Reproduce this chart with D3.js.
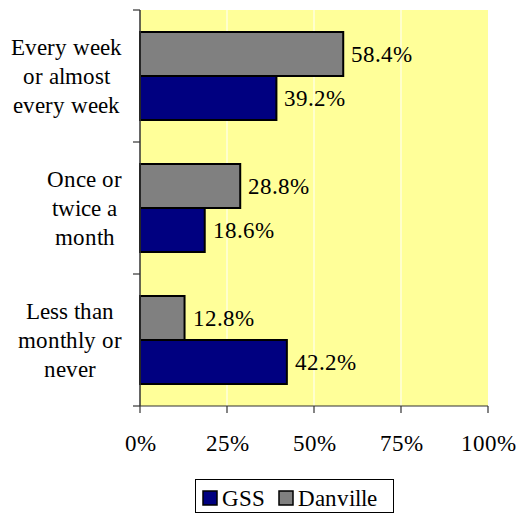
<!DOCTYPE html>
<html>
<head>
<meta charset="utf-8">
<script src="https://cdn.jsdelivr.net/npm/d3@7/dist/d3.min.js"></script>
<style>
  @font-face { font-family: "ChartSerif"; src: local("Liberation Serif"), local("LiberationSerif"), local("LiberationSerif-Regular"), local("Times New Roman"); }
</style>
</head>
<body style="margin:0">
<svg id="c" width="517" height="513"></svg>
<script>
const categories = [
  ["Every week", "or almost", "every week"],
  ["Once or", "twice a", "month"],
  ["Less than", "monthly or", "never"]
];
const seriesNames = ["Danville", "GSS"];
const danville = [58.4, 28.8, 12.8];
const gss = [39.2, 18.6, 42.2];
const xTicks = [0, 25, 50, 75, 100];
const legendOrder = ["GSS", "Danville"];
const colors = { GSS: "#000080", Danville: "#808080" };

(function () {
const svg = d3.select("#c");
const FONT = "ChartSerif, Liberation Serif, Times New Roman, serif";
const pL = 140, pR = 488, pT = 10, pB = 406;
const fs = 23;
const txt = sel => sel.attr("font-family", FONT).attr("font-size", fs);

const x = d3.scaleLinear().domain([0, 100]).range([pL, pR]);
const y = d3.scaleBand().domain(d3.range(categories.length)).range([pT, pB]);
const ySub = d3.scaleBand().domain(seriesNames).range([0, y.bandwidth()]).paddingInner(0).paddingOuter(0.5);

svg.append("rect").attr("x", pL).attr("y", pT).attr("width", pR - pL).attr("height", pB - pT).attr("fill", "#FFFF99");

svg.selectAll("line.grid").data(xTicks.filter(t => t > 0 && t < 100)).join("line")
  .attr("class", "grid")
  .attr("x1", d => x(d)).attr("x2", d => x(d)).attr("y1", pT).attr("y2", pB)
  .attr("stroke", "#fff").attr("stroke-width", 1);

const values = { Danville: danville, GSS: gss };

categories.forEach((c, i) => {
  seriesNames.forEach(s => {
    const v = values[s][i];
    const by = y(i) + ySub(s);
    svg.append("rect")
      .attr("x", x(0)).attr("y", by)
      .attr("width", x(v) - x(0)).attr("height", ySub.bandwidth())
      .attr("fill", colors[s]).attr("stroke", "#000").attr("stroke-width", 2);
    svg.append("text").call(txt)
      .attr("x", x(v) + 8).attr("y", by + ySub.bandwidth() / 2 + 8)
      .text(v.toFixed(1) + "%");
  });
});

svg.append("line").attr("x1", pL).attr("x2", pL).attr("y1", pT).attr("y2", pB)
  .attr("stroke", "#333").attr("stroke-width", 1.5);
const bounds = d3.range(categories.length + 1).map(i => i < categories.length ? y(i) : pB);
svg.selectAll("line.ytick").data(bounds).join("line")
  .attr("class", "ytick")
  .attr("x1", pL - 7).attr("x2", pL).attr("y1", d => d).attr("y2", d => d)
  .attr("stroke", "#333").attr("stroke-width", 1.2);

svg.append("line").attr("x1", pL).attr("x2", pR).attr("y1", pB).attr("y2", pB)
  .attr("stroke", "#333").attr("stroke-width", 1.2);
svg.selectAll("line.xtick").data(xTicks).join("line")
  .attr("class", "xtick")
  .attr("x1", d => x(d)).attr("x2", d => x(d)).attr("y1", pB).attr("y2", pB + 7)
  .attr("stroke", "#333").attr("stroke-width", 1.2);
svg.selectAll("text.xlab").data(xTicks).join("text")
  .attr("class", "xlab").call(txt)
  .attr("x", d => x(d)).attr("y", 451).attr("text-anchor", "middle")
  .text(d => d + "%");

categories.forEach((lines, i) => {
  const g = svg.append("g");
  const texts = lines.map((l, j) => g.append("text").call(txt)
    .attr("text-anchor", "middle")
    .attr("y", y(i) + y.bandwidth() / 2 + (j - 1) * 29 + 8)
    .text(l));
  const maxW = d3.max(texts, t => t.node().getComputedTextLength());
  texts.forEach(t => t.attr("x", 122 - maxW / 2));
});

svg.append("rect").attr("x", 195.5).attr("y", 479.5).attr("width", 198).attr("height", 33)
  .attr("fill", "#fff").attr("stroke", "#000").attr("stroke-width", 1);
let lx = 203;
legendOrder.forEach(s => {
  svg.append("rect").attr("x", lx).attr("y", 491).attr("width", 14).attr("height", 14)
    .attr("fill", colors[s]).attr("stroke", "#000").attr("stroke-width", 1.5);
  const t = svg.append("text").call(txt)
    .attr("x", lx + 19).attr("y", 506)
    .text(s);
  lx += 19 + t.node().getComputedTextLength() + 14;
});
})();
</script>
</body>
</html>
